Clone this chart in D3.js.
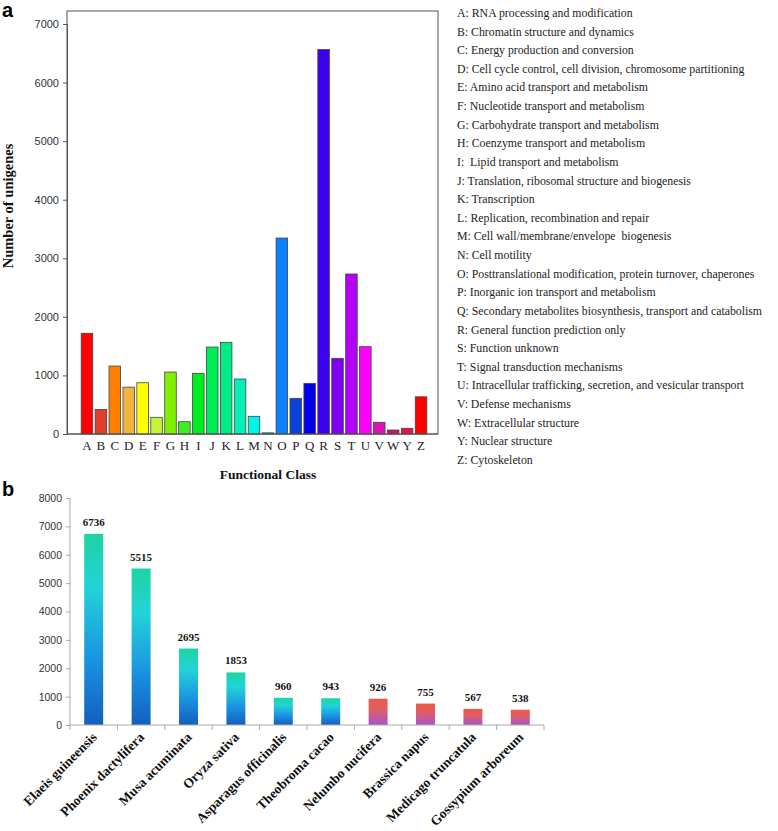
<!DOCTYPE html>
<html><head><meta charset="utf-8">
<script src="https://cdn.jsdelivr.net/npm/d3@7/dist/d3.min.js"></script>
<style>body{margin:0;background:#fff}svg{display:block}</style>
</head><body>
<svg id="c" width="778" height="831"></svg>
<script>
// ---- Panel a data ----
const classes = ["A","B","C","D","E","F","G","H","I","J","K","L","M","N","O","P","Q","R","S","T","U","V","W","Y","Z"];
const classCounts = [1720,420,1160,800,875,285,1058,210,1036,1485,1565,939,302,20,3346,609,865,6565,1292,2732,1491,200,68,97,635];
const classColors = ["#ff0000","#e03c30","#ff7f00","#f2b441","#ffff00","#c4f53a","#80f000","#3cf020","#00ee1e","#00ee55","#00ec85","#00f0b8","#00f5e6","#00b8c8","#0a80ff","#0a40dc","#0000ee","#3c00f0","#7e00f0","#b400f5","#ff00ff","#e010b8","#d0106e","#ee1040","#ff0000"];
const classNames = [
"A: RNA processing and modification",
"B: Chromatin structure and dynamics",
"C: Energy production and conversion",
"D: Cell cycle control, cell division, chromosome partitioning",
"E: Amino acid transport and metabolism",
"F: Nucleotide transport and metabolism",
"G: Carbohydrate transport and metabolism",
"H: Coenzyme transport and metabolism",
"I:  Lipid transport and metabolism",
"J: Translation, ribosomal structure and biogenesis",
"K: Transcription",
"L: Replication, recombination and repair",
"M: Cell wall/membrane/envelope  biogenesis",
"N: Cell motility",
"O: Posttranslational modification, protein turnover, chaperones",
"P: Inorganic ion transport and metabolism",
"Q: Secondary metabolites biosynthesis, transport and catabolism",
"R: General function prediction only",
"S: Function unknown",
"T: Signal transduction mechanisms",
"U: Intracellular trafficking, secretion, and vesicular transport",
"V: Defense mechanisms",
"W: Extracellular structure",
"Y: Nuclear structure",
"Z: Cytoskeleton"];
const yTicksA = [0,1000,2000,3000,4000,5000,6000,7000];

// ---- Panel b data ----
const species = ["Elaeis guineensis","Phoenix dactylifera","Musa acuminata","Oryza sativa","Asparagus officinalis","Theobroma cacao","Nelumbo nucifera","Brassica napus","Medicago truncatula","Gossypium arboreum"];
const hits = [6736,5515,2695,1853,960,943,926,755,567,538];
const monocot = [true,true,true,true,true,true,false,false,false,false];
const yTicksB = [0,1000,2000,3000,4000,5000,6000,7000,8000];

const svg = d3.select("#c");
const serif = "'Liberation Serif','Times New Roman',serif";
const sans = "'Liberation Sans',Arial,sans-serif";

// gradients
const defs = svg.append("defs");
const g1 = defs.append("linearGradient").attr("id","gBlue").attr("x1",0).attr("y1",0).attr("x2",0).attr("y2",1);
[[0,"#1ed3a2"],[0.28,"#22d3d8"],[0.65,"#1a94e2"],[1,"#125fbe"]].forEach(s=>g1.append("stop").attr("offset",s[0]).attr("stop-color",s[1]));
const g2 = defs.append("linearGradient").attr("id","gRed").attr("x1",0).attr("y1",0).attr("x2",0).attr("y2",1);
[[0,"#ec5a44"],[0.45,"#dc5e6a"],[1,"#a454d2"]].forEach(s=>g2.append("stop").attr("offset",s[0]).attr("stop-color",s[1]));

// ================= Panel a =================
const ax = d3.scaleBand().domain(classes).range([80,428]).paddingInner(0.17).paddingOuter(0.085);
const ay = d3.scaleLinear().domain([0,7000]).range([434,24]);

svg.append("text").attr("x",2).attr("y",17).attr("font-family",sans).attr("font-weight","bold").attr("font-size",20).text("a");

// frame
svg.append("rect").attr("x",67).attr("y",11).attr("width",438-67).attr("height",434-11)
  .attr("fill","none").attr("stroke","#555").attr("stroke-width",1);

const yAxisA = svg.append("g").attr("transform","translate(67,0)")
  .call(d3.axisLeft(ay).tickValues(yTicksA).tickSize(4).tickPadding(4).tickFormat(d3.format("d")));
yAxisA.select(".domain").attr("stroke","#555");
yAxisA.selectAll(".tick line").attr("stroke","#555");
yAxisA.selectAll(".tick text").attr("font-family",sans).attr("font-size",11).attr("fill","#333");

svg.append("g").selectAll("rect").data(classes).join("rect")
  .attr("x",d=>ax(d)).attr("width",ax.bandwidth())
  .attr("y",(d,i)=>ay(classCounts[i])).attr("height",(d,i)=>ay(0)-ay(classCounts[i]))
  .attr("fill",(d,i)=>classColors[i]).attr("stroke","#444").attr("stroke-width",0.8);

const xAxisA = svg.append("g").attr("transform","translate(0,434)")
  .call(d3.axisBottom(ax).tickSize(0).tickPadding(7));
xAxisA.select(".domain").attr("stroke","#555").attr("d","M67,0H438");
xAxisA.selectAll(".tick text").attr("font-family",serif).attr("font-size",13).attr("fill","#222");

svg.append("text").attr("transform","translate(13,206) rotate(-90)").attr("text-anchor","middle")
  .attr("font-family",serif).attr("font-weight","bold").attr("font-size",14.5).attr("fill","#111")
  .text("Number of unigenes");
svg.append("text").attr("x",268).attr("y",479).attr("text-anchor","middle")
  .attr("font-family",serif).attr("font-weight","bold").attr("font-size",13.5).attr("fill","#111")
  .text("Functional Class");

// legend
svg.append("g").selectAll("text").data(classNames).join("text")
  .attr("x",457).attr("y",(d,i)=>17+i*18.62)
  .attr("font-family",serif).attr("font-size",11.8).attr("fill","#222")
  .attr("xml:space","preserve").style("white-space","pre")
  .text(d=>d);

// ================= Panel b =================
const bx = d3.scaleBand().domain(species).range([70,544]).paddingInner(0.6).paddingOuter(0.3);
const by = d3.scaleLinear().domain([0,8000]).range([725,498]);

svg.append("text").attr("x",2).attr("y",496).attr("font-family",sans).attr("font-weight","bold").attr("font-size",20).text("b");

const yAxisB = svg.append("g").attr("transform","translate(70,0)")
  .call(d3.axisLeft(by).tickValues(yTicksB).tickSize(4).tickPadding(4).tickFormat(d3.format("d")));
yAxisB.select(".domain").attr("stroke","#aaa").attr("d","M0,498V725");
yAxisB.selectAll(".tick line").attr("stroke","#aaa");
yAxisB.selectAll(".tick text").attr("font-family",sans).attr("font-size",10.5).attr("fill","#333");

svg.append("g").selectAll("rect").data(species).join("rect")
  .attr("x",d=>bx(d)).attr("width",bx.bandwidth())
  .attr("y",(d,i)=>by(hits[i])).attr("height",(d,i)=>by(0)-by(hits[i]))
  .attr("fill",(d,i)=>monocot[i]?"url(#gBlue)":"url(#gRed)");

// x axis with ticks at band boundaries
const xAxisB = svg.append("g").attr("transform","translate(0,725)");
xAxisB.append("line").attr("x1",70).attr("x2",bx.range()[1]).attr("y1",0).attr("y2",0).attr("stroke","#aaa");
const bounds = d3.range(species.length+1).map(i=>70+i*bx.step());
xAxisB.selectAll("line.tk").data(bounds).join("line").attr("class","tk")
  .attr("x1",d=>d).attr("x2",d=>d).attr("y1",0).attr("y2",5).attr("stroke","#aaa");

svg.append("g").selectAll("text").data(species).join("text")
  .attr("transform",d=>`translate(${bx(d)+bx.bandwidth()/2+4},738) rotate(-45)`)
  .attr("text-anchor","end").attr("font-family",serif).attr("font-weight","bold").attr("font-size",13.5).attr("fill","#111")
  .text(d=>d);

svg.append("g").selectAll("text").data(species).join("text")
  .attr("x",d=>bx(d)+bx.bandwidth()/2).attr("y",(d,i)=>by(hits[i])-8)
  .attr("text-anchor","middle").attr("font-family",serif).attr("font-weight","bold").attr("font-size",11).attr("fill","#111")
  .text((d,i)=>hits[i]);
</script>
</body></html>
